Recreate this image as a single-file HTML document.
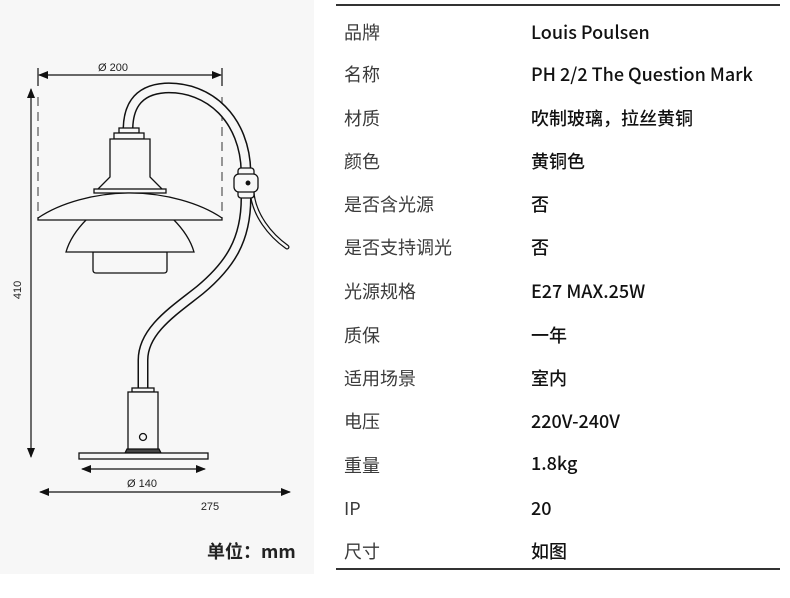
<!DOCTYPE html>
<html><head><meta charset="utf-8">
<style>
html,body{margin:0;padding:0;background:#fff;}
body{width:790px;height:598px;position:relative;overflow:hidden;font-family:"Liberation Sans","Noto Sans CJK SC",sans-serif;}
.panel{position:absolute;left:0;top:0;width:314px;height:574px;background:#f7f7f7;}
.t{position:absolute;font-family:"Noto Sans CJK SC","Liberation Sans",sans-serif;font-size:18px;line-height:20px;white-space:nowrap;}
.l{left:344px;color:#3a3a3a;}
.v{left:531px;color:#111;font-weight:500;}
.hr{position:absolute;left:336px;width:444px;height:2px;background:#333;}
</style></head><body>
<div class="panel"></div>
<svg width="314" height="574" style="position:absolute;left:0;top:0" xmlns="http://www.w3.org/2000/svg">
<defs>
<marker id="a" markerWidth="10" markerHeight="8" refX="9" refY="4" orient="auto" markerUnits="userSpaceOnUse"><path d="M0,0 L10,4 L0,8 Z" fill="#111"/></marker>
<marker id="b" markerWidth="10" markerHeight="8" refX="1" refY="4" orient="auto" markerUnits="userSpaceOnUse"><path d="M10,0 L0,4 L10,8 Z" fill="#111"/></marker>
</defs>
<g stroke="#111" stroke-width="1.2" fill="none">
<line x1="39" y1="75" x2="221" y2="75" marker-start="url(#b)" marker-end="url(#a)"/>
<line x1="38" y1="68" x2="38" y2="86"/><line x1="222" y1="68" x2="222" y2="86"/>
<line x1="38" y1="97" x2="38" y2="218" stroke-dasharray="9,6" stroke="#555"/>
<line x1="222" y1="97" x2="222" y2="218" stroke-dasharray="9,6" stroke="#555"/>
<line x1="31" y1="89" x2="31" y2="457" marker-start="url(#b)" marker-end="url(#a)"/>
<line x1="82" y1="469" x2="205" y2="469" marker-start="url(#b)" marker-end="url(#a)"/>
<line x1="40" y1="492" x2="290" y2="492" marker-start="url(#b)" marker-end="url(#a)"/>
</g>
<g fill="none" stroke-linecap="butt">
<path d="M143,390 L143,360 C143,330 175,310 200,290 C230,265 246,240 246,198" stroke="#111" stroke-width="11"/>
<path d="M143,390 L143,360 C143,330 175,310 200,290 C230,265 246,240 246,198" stroke="#f7f7f7" stroke-width="8"/>
<path d="M246,172 C245,120 210,86 165,88 C135,90 128,110 128,130" stroke="#111" stroke-width="11"/>
<path d="M246,172 C245,120 210,86 165,88 C135,90 128,110 128,130" stroke="#f7f7f7" stroke-width="8"/>
<path d="M252,192 C254,215 270,235 287,247" stroke="#111" stroke-width="5" stroke-linecap="round"/>
<path d="M252,192 C254,215 270,235 287,247" stroke="#f7f7f7" stroke-width="2.5" stroke-linecap="round"/>
</g>
<g stroke="#111" stroke-width="1.3" fill="#f7f7f7">
<rect x="238" y="168" width="16" height="30" rx="3"/>
<rect x="234" y="174" width="24" height="18" rx="5"/>
<circle cx="248" cy="183" r="1.8" fill="#111"/>
<rect x="119" y="128" width="20" height="5"/>
<rect x="114" y="133" width="30" height="6"/>
<path d="M110,139 L150,139 L150,177 L163,190 L97,190 L110,177 Z"/>
<rect x="94" y="189" width="72" height="4"/>
<path d="M93,252 L167,252 L167,270 Q167,273 164,273 L96,273 Q93,273 93,270 Z"/>
<path d="M66,252 C70,238 80,226 87,219 L173,219 C180,226 190,238 194,252 Z"/>
<path d="M38,218 C60,203 95,193 130,193 C165,193 200,203 222,218 L222,220 L38,220 Z"/>
<rect x="132" y="388" width="22" height="4"/>
<rect x="128" y="392" width="30" height="58"/>
<circle cx="143" cy="437" r="3.5"/>
<path d="M125,453 L127,449 L159,449 L161,453 Z" fill="#444"/>
<rect x="79" y="453" width="129" height="6"/>
</g>
<g font-family="Liberation Sans, sans-serif" font-size="11" fill="#222" text-anchor="middle">
<text x="113" y="71">Ø 200</text>
<text x="142" y="487">Ø 140</text>
<text x="210" y="510">275</text>
<text x="0" y="0" transform="translate(21,290) rotate(-90)">410</text>
</g>
</svg>
<div class="t" style="left:207px;top:541px;color:#222;font-weight:bold;font-size:18px;">单位：mm</div>
<div class="hr" style="top:4px"></div>
<div class="hr" style="top:568px"></div>
<div class="t l" style="top:22px">品牌</div><div class="t v" style="top:22px">Louis Poulsen</div>
<div class="t l" style="top:64px">名称</div><div class="t v" style="top:64px">PH 2/2 The Question Mark</div>
<div class="t l" style="top:108px">材质</div><div class="t v" style="top:108px">吹制玻璃，拉丝黄铜</div>
<div class="t l" style="top:151px">颜色</div><div class="t v" style="top:151px">黄铜色</div>
<div class="t l" style="top:194px">是否含光源</div><div class="t v" style="top:194px">否</div>
<div class="t l" style="top:237px">是否支持调光</div><div class="t v" style="top:237px">否</div>
<div class="t l" style="top:281px">光源规格</div><div class="t v" style="top:281px">E27 MAX.25W</div>
<div class="t l" style="top:325px">质保</div><div class="t v" style="top:325px">一年</div>
<div class="t l" style="top:368px">适用场景</div><div class="t v" style="top:368px">室内</div>
<div class="t l" style="top:411px">电压</div><div class="t v" style="top:411px">220V-240V</div>
<div class="t l" style="top:455px">重量</div><div class="t v" style="top:453px">1.8kg</div>
<div class="t l" style="top:498px">IP</div><div class="t v" style="top:498px">20</div>
<div class="t l" style="top:541px">尺寸</div><div class="t v" style="top:541px">如图</div>
</body></html>
